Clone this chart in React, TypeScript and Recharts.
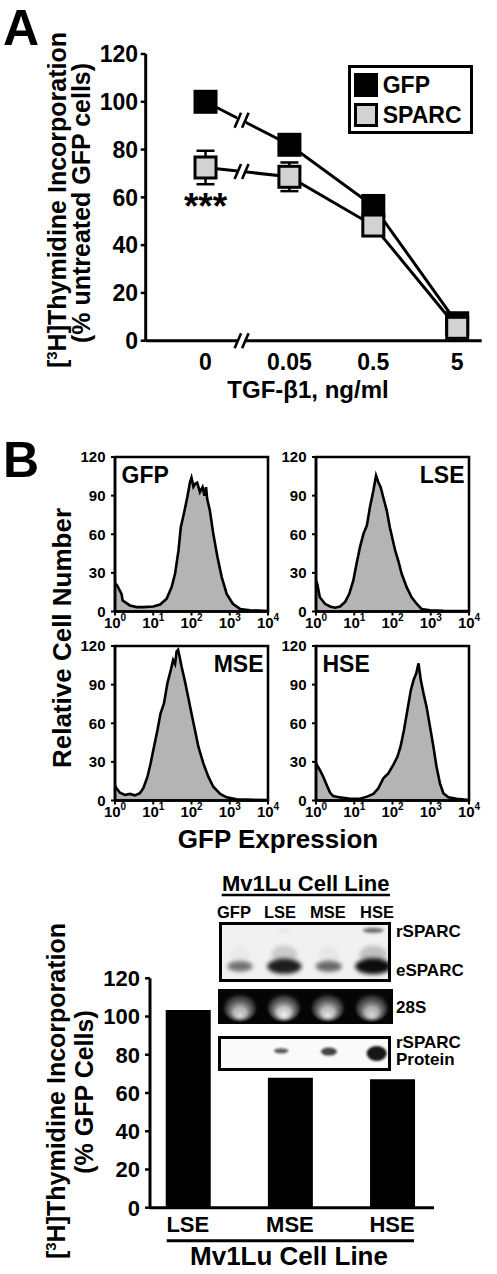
import React from 'react';
import {
  LineChart, Line, XAxis, YAxis, ErrorBar, ReferenceDot, Legend,
  AreaChart, Area, ReferenceArea, BarChart, Bar, ScatterChart, Scatter,
} from 'recharts';

const FONT = "'Liberation Sans', Arial, Helvetica, sans-serif";

// ---------------- Panel A: [3H]thymidine incorporation vs TGF-beta1 ----------------
const doseLabels = ['0', '0.05', '0.5', '5'];
const gfpIncorporation = [100, 82, 56.4, 7.3];
const sparcIncorporation = [72.5, 68.6, 48.2, 5.4];
const sparcError = [7, 6, 2, 1];
const incorporationTicks = [0, 20, 40, 60, 80, 100, 120];
const breakPosition = 0.43; // axis break between dose 0 and 0.05 (category index units)

// ---------------- Panel B: flow cytometry histograms (x = log10 GFP intensity) ----------------
const gfpHistLog = [0, 0.06, 0.17, 0.2, 0.39, 0.57, 0.74, 1.0, 1.18, 1.35, 1.48, 1.57, 1.66, 1.72, 1.8, 1.89, 1.96, 2.0, 2.05, 2.09, 2.15, 2.22, 2.29, 2.34, 2.38, 2.41, 2.48, 2.57, 2.68, 2.79, 2.92, 3.08, 3.27, 3.53, 3.88, 4.0];
const gfpHistCount = [22, 20, 13.7, 8.5, 4.7, 3.4, 3.4, 3.9, 5.4, 10, 18.9, 29.3, 47.4, 65.5, 75.9, 88.8, 100.4, 104, 97, 99, 100, 92.7, 96.6, 90, 96.6, 87.5, 78.4, 60.3, 42.2, 26.7, 13.7, 6, 2, 1, 0.5, 0.4];

const lseHistLog = [0, 0.035, 0.1, 0.235, 0.366, 0.497, 0.627, 0.758, 0.87, 0.976, 1.06, 1.15, 1.24, 1.33, 1.41, 1.5, 1.57, 1.63, 1.69, 1.78, 1.85, 1.93, 2.07, 2.15, 2.24, 2.37, 2.5, 2.63, 2.76, 2.98, 3.33, 3.85, 4.0];
const lseHistCount = [24, 21, 11.1, 6, 3.9, 2.9, 3.9, 7.3, 13.7, 24.1, 37, 50, 60.3, 66.8, 81, 94, 105.6, 100.4, 96.6, 86.2, 78.4, 65.5, 47.4, 39.6, 29.3, 18.9, 11.1, 6, 2, 1, 0.5, 0.3, 0.3];

const mseHistLog = [0, 0.01, 0.13, 0.26, 0.39, 0.52, 0.65, 0.74, 0.85, 0.93, 1.02, 1.11, 1.19, 1.28, 1.37, 1.46, 1.52, 1.57, 1.61, 1.65, 1.68, 1.74, 1.83, 1.92, 2.0, 2.09, 2.18, 2.31, 2.44, 2.57, 2.75, 2.92, 3.18, 3.62, 4.0];
const mseHistCount = [12, 10.7, 6, 4.3, 5.1, 4, 5.6, 9.5, 18.5, 28.8, 41.8, 54.7, 67.6, 75.4, 91, 101.4, 109, 106, 115.6, 117, 113, 104, 92.3, 79.4, 67.6, 54.7, 41.8, 28.8, 18.5, 10.7, 5.1, 2.5, 1, 0.5, 0.3];

const hseHistLog = [0, 0.1, 0.19, 0.28, 0.37, 0.45, 0.63, 0.89, 1.15, 1.33, 1.5, 1.63, 1.76, 1.89, 2.02, 2.13, 2.21, 2.3, 2.39, 2.48, 2.55, 2.62, 2.68, 2.74, 2.81, 2.89, 2.98, 3.07, 3.15, 3.24, 3.33, 3.46, 3.68, 3.94, 4.0];
const hseHistCount = [28.9, 23.7, 18.5, 12.1, 6, 3.4, 2.4, 1.4, 1.4, 3, 5.1, 9.5, 17.2, 21.1, 27.6, 34.1, 41.8, 54.7, 70.3, 85.8, 93.5, 98.7, 106.5, 93.5, 83.2, 72.9, 57.4, 41.8, 26.4, 13.3, 5.6, 2.5, 1.4, 0.5, 0.4];

const histDecadeTicks = [0, 1, 2, 3, 4];
const histCountTicks = [0, 30, 60, 90, 120];

// ---------------- Panel B (lower): proliferation of SPARC lines ----------------
const cellLines = ['LSE', 'MSE', 'HSE'];
const relativeIncorporation = [103.4, 68, 67.2];
const barTicks = [0, 20, 40, 60, 80, 100, 120];

// ---------------- Inset blots ----------------
const laneNames = ['GFP', 'LSE', 'MSE', 'HSE'];
const eSparcSignal = [0.4, 0.9, 0.45, 1.0];
const rSparcMrnaSignal = [0, 0.06, 0, 0.55];
const rRna28SSignal = [0.85, 0.95, 0.9, 0.85];
const rSparcProteinSignal = [0, 0.3, 0.5, 1.0];

// ---------------- helpers ----------------
const txt = { fill: '#000', fontFamily: FONT, fontWeight: 700 } as const;

const squareDot = (fill: string, size: number, stroked: boolean) => (props: any) => {
  const { cx, cy, index } = props;
  if (cx == null || cy == null) return <g key={`d-${index}`} />;
  return (
    <rect key={`d-${index}`} x={cx - size / 2} y={cy - size / 2} width={size} height={size}
      fill={fill} stroke={stroked ? '#000' : 'none'} strokeWidth={stroked ? 3 : 0} />
  );
};

const BreakMark = (props: any) => {
  const { cx, cy } = props;
  if (cx == null || cy == null) return <g />;
  return (
    <g>
      <rect x={cx - 4} y={cy - 7} width={8} height={14} fill="#fff" />
      <line x1={cx - 7} y1={cy + 7.5} x2={cx - 0.5} y2={cy - 7.5} stroke="#000" strokeWidth={2.6} />
      <line x1={cx + 0.5} y1={cy + 7.5} x2={cx + 7} y2={cy - 7.5} stroke="#000" strokeWidth={2.6} />
    </g>
  );
};

const StarMark = (props: any) => {
  const { cx, cy } = props;
  if (cx == null || cy == null) return <g />;
  return <text x={cx} y={cy + 52} textAnchor="middle" fontSize={37} {...txt}>***</text>;
};

const panelAData = doseLabels.map((dose, i) => ({
  idx: i, dose, gfp: gfpIncorporation[i], sparc: sparcIncorporation[i], sparcErr: sparcError[i],
}));

const interp = (arr: number[], t: number) => arr[0] + t * (arr[1] - arr[0]);

const renderLegend = (props: any) => {
  const items = (props && props.payload && props.payload.length ? props.payload.map((p: any) => p.value) : ['GFP', 'SPARC']);
  return (
    <div style={{
      width: 125, height: 69, border: '3px solid #000', boxSizing: 'border-box', background: '#fff',
      position: 'relative', fontFamily: FONT, fontWeight: 700, fontSize: 23, color: '#000',
    }}>
      {items.map((name: string, i: number) => (
        <div key={name} style={{ position: 'absolute', left: 3, top: 5 + i * 30, height: 24, display: 'flex', alignItems: 'center' }}>
          <span style={{
            display: 'inline-block', width: 24, height: 24, boxSizing: 'border-box',
            background: i === 0 ? '#000' : '#d2d2d2', border: i === 0 ? 'none' : '3px solid #000',
          }} />
          <span style={{ marginLeft: 5, lineHeight: '24px' }}>{name}</span>
        </div>
      ))}
    </div>
  );
};

function PanelA() {
  return (
    <div style={{ position: 'absolute', left: 0, top: 0 }}>
      <LineChart width={497} height={420} data={panelAData} margin={{ top: 54, right: 15.3, bottom: 39.3, left: 85.7 }}>
        <XAxis dataKey="idx" type="number" domain={[-0.713, 3.292]} ticks={[0, 1, 2, 3]} interval={0}
          tickFormatter={(v: number) => doseLabels[v]} allowDataOverflow height={40}
          axisLine={{ stroke: '#000', strokeWidth: 3 }} tickLine={false} tickSize={6} tickMargin={6.6}
          tick={{ ...txt, fontSize: 23 }} />
        <YAxis type="number" domain={[0, 120]} ticks={incorporationTicks} interval={0} width={60}
          axisLine={{ stroke: '#000', strokeWidth: 3 }} tickLine={{ stroke: '#000', strokeWidth: 2.5 }}
          tickSize={5} tickMargin={2.7} tick={{ ...txt, fontSize: 23 }} />
        <Line dataKey="gfp" name="GFP" stroke="#000" strokeWidth={3} isAnimationActive={false}
          dot={squareDot('#000', 24, false)} activeDot={false} />
        <Line dataKey="sparc" name="SPARC" stroke="#000" strokeWidth={3} isAnimationActive={false}
          dot={squareDot('#d2d2d2', 21, true)} activeDot={false}>
          <ErrorBar dataKey="sparcErr" width={9} strokeWidth={2.5} stroke="#000" direction="y" />
        </Line>
        <ReferenceDot x={breakPosition} y={interp(gfpIncorporation, breakPosition)} shape={BreakMark} />
        <ReferenceDot x={breakPosition} y={interp(sparcIncorporation, breakPosition)} shape={BreakMark} />
        <ReferenceDot x={breakPosition} y={0} shape={BreakMark} />
        <ReferenceDot x={0} y={sparcIncorporation[0]} shape={StarMark} />
        <Legend layout="vertical" align="center" verticalAlign="middle" content={renderLegend}
          wrapperStyle={{ position: 'absolute', left: 347.7, top: 65, width: 125, height: 69 }} />
      </LineChart>
    </div>
  );
}

// ---------------- Histograms ----------------
const LogTick = (props: any) => {
  const { x, y, payload } = props;
  return (
    <text x={x} y={y + 10} textAnchor="middle" fontSize={15} {...txt}>
      10<tspan fontSize={10} dy={-7}>{payload.value}</tspan>
    </text>
  );
};

const histTag = (text: string, side: 'left' | 'right') => (p: any) => {
  const vb = p.viewBox || {};
  const x = side === 'left' ? vb.x + 6.5 : vb.x + vb.width - 4.5;
  return (
    <text x={x} y={vb.y + 26} textAnchor={side === 'left' ? 'start' : 'end'} fontSize={23} {...txt}>{text}</text>
  );
};

function Histogram(props: { left: number; top: number; logs: number[]; counts: number[]; tag: string; side: 'left' | 'right' }) {
  const { left, top, logs, counts, tag, side } = props;
  const data = logs.map((l, i) => ({ log: l, count: counts[i] }));
  const W = 153, H = 154.5, TOP = 14;
  return (
    <div style={{ position: 'absolute', left: left - 50, top: top - TOP }}>
      <AreaChart width={50 + W + 16} height={TOP + H + 34} data={data} margin={{ top: TOP, right: 16, bottom: 9, left: 10 }}>
        <XAxis dataKey="log" type="number" domain={[0, 4]} ticks={histDecadeTicks} interval={0} allowDataOverflow height={25}
          axisLine={{ stroke: '#000', strokeWidth: 2.5 }} tickLine={{ stroke: '#000', strokeWidth: 2 }}
          tickSize={4} tickMargin={2.5} tick={<LogTick />} />
        <YAxis type="number" domain={[0, 120]} ticks={histCountTicks} interval={0} width={40} allowDataOverflow
          axisLine={{ stroke: '#000', strokeWidth: 2.5 }} tickLine={{ stroke: '#000', strokeWidth: 2 }}
          tickSize={4} tickMargin={5.5} tick={{ ...txt, fontSize: 15 }} />
        <Area dataKey="count" type="linear" fill="#b4b4b4" fillOpacity={1} stroke="#000" strokeWidth={2.6}
          isAnimationActive={false} dot={false} activeDot={false} />
        <ReferenceArea x1={0} x2={4} y1={0} y2={120} fill="none" fillOpacity={0} stroke="#000" strokeWidth={2.6}
          ifOverflow="visible" label={histTag(tag, side)} />
      </AreaChart>
    </div>
  );
}

// ---------------- Bar chart ----------------
const barData = cellLines.map((c, i) => ({ idx: i, line: c, value: relativeIncorporation[i] }));

function PanelC() {
  return (
    <div style={{ position: 'absolute', left: 0, top: 940 }}>
      <BarChart width={497} height={334} data={barData} margin={{ top: 38.3, right: 63, bottom: 36.3, left: 90 }}>
        <XAxis dataKey="idx" type="number" domain={[-0.37, 2.41]} ticks={[0, 1, 2]} interval={0} allowDataOverflow
          tickFormatter={(v: number) => cellLines[v]} height={30}
          axisLine={{ stroke: '#000', strokeWidth: 3 }} tickLine={false} tickSize={6} tickMargin={3}
          tick={{ ...txt, fontSize: 22 }} />
        <YAxis type="number" domain={[0, 120]} ticks={barTicks} interval={0} width={60}
          axisLine={{ stroke: '#000', strokeWidth: 3 }} tickLine={{ stroke: '#000', strokeWidth: 2.5 }}
          tickSize={5} tickMargin={5} tick={{ ...txt, fontSize: 22 }} />
        <Bar dataKey="value" fill="#000" barSize={45} isAnimationActive={false} />
      </BarChart>
    </div>
  );
}

// ---------------- Blots ----------------
const mrnaBand = (props: any) => {
  const { cx, cy, payload } = props;
  const v = payload.signal;
  if (!v || cx == null) return <g />;
  const id = `mb-${payload.row}-${payload.lane}`;
  if (payload.row === 1) {
    return (
      <g>
        <defs><filter id={id} x="-50%" y="-200%" width="200%" height="500%"><feGaussianBlur stdDeviation={1.4} /></filter></defs>
        <ellipse cx={cx} cy={cy} rx={6 + 8 * v} ry={1.5 + 2 * v} fill="#000" fillOpacity={v} filter={`url(#${id})`} />
      </g>
    );
  }
  const rx = 9 + 9 * v;
  const ry = 3.5 + 4.5 * v;
  return (
    <g>
      <defs><filter id={id} x="-60%" y="-150%" width="220%" height="400%"><feGaussianBlur stdDeviation={2.2} /></filter></defs>
      <ellipse cx={cx} cy={cy - 12} rx={rx * 0.75} ry={9} fill="#000" fillOpacity={0.2 * v * v} filter={`url(#${id})`} />
      <ellipse cx={cx} cy={cy} rx={rx} ry={ry} fill="#000" fillOpacity={0.25 + 0.7 * v} filter={`url(#${id})`} />
    </g>
  );
};

const rrnaGlow = (props: any) => {
  const { cx, cy, payload } = props;
  if (cx == null) return <g />;
  const v = payload.signal;
  const id = `rg-${payload.lane}`;
  return (
    <g>
      <defs>
        <radialGradient id={id} cx="50%" cy="50%" r="50%" fx="50%" fy="78%">
          <stop offset="0" stopColor="#fff" stopOpacity={v} />
          <stop offset="0.35" stopColor="#e0e0e0" stopOpacity={0.9 * v} />
          <stop offset="0.75" stopColor="#707070" stopOpacity={0.55 * v} />
          <stop offset="1" stopColor="#000" stopOpacity={0} />
        </radialGradient>
      </defs>
      <ellipse cx={cx} cy={cy - 1} rx={19} ry={16} fill={`url(#${id})`} />
    </g>
  );
};

const proteinBand = (props: any) => {
  const { cx, cy, payload } = props;
  const v = payload.signal;
  if (!v || cx == null) return <g />;
  const id = `pb-${payload.lane}`;
  const rx = 6 + 4 * v;
  const ry = 0.5 + 7 * v;
  return (
    <g>
      <defs><filter id={id} x="-50%" y="-100%" width="200%" height="300%"><feGaussianBlur stdDeviation={0.8} /></filter></defs>
      <ellipse cx={cx} cy={cy + (ry - 2.5) * 0.55} rx={rx} ry={ry} fill="#151515" fillOpacity={0.55 + 0.45 * v} filter={`url(#${id})`} />
    </g>
  );
};

const eSparcData = laneNames.map((l, i) => ({ lane: i, name: l, row: 0, signal: eSparcSignal[i] }));
const rSparcData = laneNames.map((l, i) => ({ lane: i, name: l, row: 1, signal: rSparcMrnaSignal[i] }));
const rRnaData = laneNames.map((l, i) => ({ lane: i, name: l, row: 0, signal: rRna28SSignal[i] }));
const proteinData = laneNames.map((l, i) => ({ lane: i, name: l, row: 0, signal: rSparcProteinSignal[i] }));
const zeroMargin = { top: 0, right: 0, bottom: 0, left: 0 };

function Blots() {
  return (
    <>
      <div style={{ position: 'absolute', left: 219, top: 921.7, width: 172, height: 60, border: '3px solid #000', boxSizing: 'border-box', background: '#f1f1f1' }}>
        <ScatterChart width={166} height={54} margin={zeroMargin}>
          <XAxis dataKey="lane" type="number" domain={[-0.405, 3.333]} hide allowDataOverflow />
          <YAxis dataKey="row" type="number" domain={[-0.353, 1.147]} hide allowDataOverflow />
          <Scatter data={eSparcData} shape={mrnaBand} isAnimationActive={false} />
          <Scatter data={rSparcData} shape={mrnaBand} isAnimationActive={false} />
        </ScatterChart>
      </div>
      <div style={{ position: 'absolute', left: 218, top: 989, width: 174.7, height: 35.3, background: '#050505' }}>
        <ScatterChart width={174.7} height={35.3} margin={zeroMargin}>
          <XAxis dataKey="lane" type="number" domain={[-0.501, 3.478]} hide allowDataOverflow />
          <YAxis dataKey="row" type="number" domain={[-0.86, 1]} hide allowDataOverflow />
          <Scatter data={rRnaData} shape={rrnaGlow} isAnimationActive={false} />
        </ScatterChart>
      </div>
      <div style={{ position: 'absolute', left: 218, top: 1035.7, width: 172.7, height: 35.3, border: '3px solid #000', boxSizing: 'border-box', background: '#fafafa' }}>
        <ScatterChart width={166.7} height={29.3} margin={zeroMargin}>
          <XAxis dataKey="lane" type="number" domain={[-0.26, 3.23]} hide allowDataOverflow />
          <YAxis dataKey="row" type="number" domain={[-1.483, 1]} hide allowDataOverflow />
          <Scatter data={proteinData} shape={proteinBand} isAnimationActive={false} />
        </ScatterChart>
      </div>
    </>
  );
}

// ---------------- free text ----------------
function Annotations() {
  const laneCenters = [234, 280, 328, 377];
  return (
    <svg width={497} height={1274} style={{ position: 'absolute', left: 0, top: 0, pointerEvents: 'none' }}>
      <text x={3} y={45} fontSize={50} {...txt}>A</text>
      <text x={3} y={477} fontSize={50} {...txt}>B</text>

      <text x={66} y={200} transform="rotate(-90 66 200)" textAnchor="middle" fontSize={25} {...txt}>
        [<tspan fontSize={15} dy={-9}>3</tspan><tspan dy={9}>H]Thymidine Incorporation</tspan>
      </text>
      <text x={90} y={203} transform="rotate(-90 90 203)" textAnchor="middle" fontSize={25} {...txt}>(% untreated GFP cells)</text>
      <text x={308} y={398} textAnchor="middle" fontSize={24} {...txt}>TGF-β1, ng/ml</text>

      <text x={71} y={638} transform="rotate(-90 71 638)" textAnchor="middle" fontSize={26} {...txt}>Relative Cell Number</text>
      <text x={278} y={848} textAnchor="middle" fontSize={26} {...txt}>GFP Expression</text>

      <text x={305.8} y={890.7} textAnchor="middle" fontSize={22} {...txt}>Mv1Lu Cell Line</text>
      <line x1={221.7} x2={390} y1={895} y2={895} stroke="#000" strokeWidth={2.5} />
      {laneNames.map((l, i) => (
        <text key={l} x={laneCenters[i]} y={918.3} textAnchor="middle" fontSize={16.5} {...txt}>{l}</text>
      ))}
      <text x={396} y={936.7} fontSize={17} {...txt}>rSPARC</text>
      <text x={396} y={976} fontSize={17} {...txt}>eSPARC</text>
      <text x={396} y={1012.7} fontSize={17} {...txt}>28S</text>
      <text x={396} y={1048.3} fontSize={17} {...txt}>rSPARC</text>
      <text x={396} y={1065} fontSize={17} {...txt}>Protein</text>

      <text x={65} y={1091} transform="rotate(-90 65 1091)" textAnchor="middle" fontSize={25} {...txt}>
        [<tspan fontSize={15} dy={-9}>3</tspan><tspan dy={9}>H]Thymidine Incorporation</tspan>
      </text>
      <text x={93} y={1092} transform="rotate(-90 93 1092)" textAnchor="middle" fontSize={25} {...txt}>(% GFP Cells)</text>

      <line x1={166.7} x2={414} y1={1240.7} y2={1240.7} stroke="#000" strokeWidth={3} />
      <text x={289} y={1265} textAnchor="middle" fontSize={26} {...txt}>Mv1Lu Cell Line</text>
    </svg>
  );
}

export default function App() {
  return (
    <div style={{ position: 'absolute', left: 0, top: 0, width: 497, height: 1274, background: '#fff', overflow: 'hidden' }}>
      <PanelA />
      <Histogram left={115} top={456.5} logs={gfpHistLog} counts={gfpHistCount} tag="GFP" side="left" />
      <Histogram left={316} top={456.5} logs={lseHistLog} counts={lseHistCount} tag="LSE" side="right" />
      <Histogram left={115} top={646.3} logs={mseHistLog} counts={mseHistCount} tag="MSE" side="right" />
      <Histogram left={316} top={646.3} logs={hseHistLog} counts={hseHistCount} tag="HSE" side="left" />
      <PanelC />
      <Blots />
      <Annotations />
    </div>
  );
}
